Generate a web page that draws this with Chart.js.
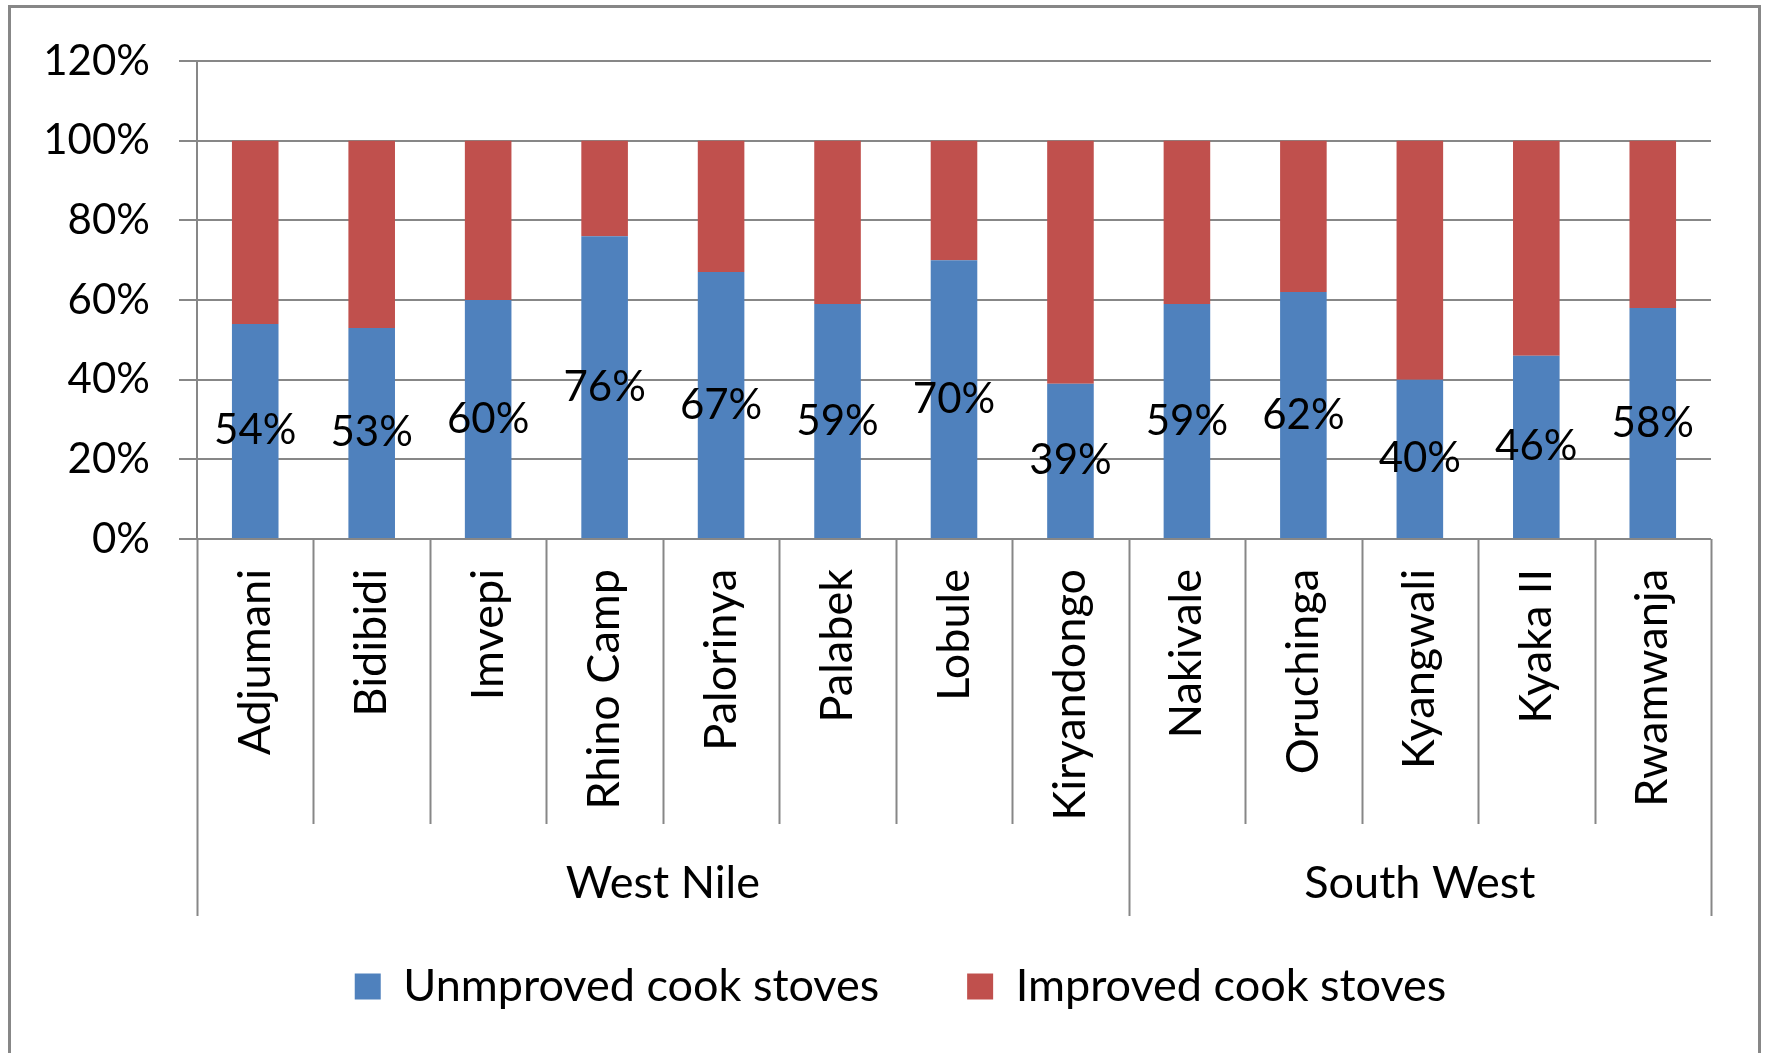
<!DOCTYPE html>
<html lang="en">
<head>
<meta charset="UTF-8">
<title>Cook stoves by settlement</title>
<script src="https://cdn.jsdelivr.net/npm/chart.js"></script>
<style>
  body { margin: 0; background: #fff; }
  #box { width: 1767px; height: 1053px; }
</style>
</head>
<body>
<div id="box"><canvas id="grafico"></canvas></div>
<script>
  const settlements = ["Adjumani", "Bidibidi", "Imvepi", "Rhino Camp", "Palorinya", "Palabek", "Lobule",
    "Kiryandongo", "Nakivale", "Oruchinga", "Kyangwali", "Kyaka II", "Rwamwanja"];
  const unimproved = [54, 53, 60, 76, 67, 59, 70, 39, 59, 62, 40, 46, 58];
  const improved = [46, 47, 40, 24, 33, 41, 30, 61, 41, 38, 60, 54, 42];
  const regions = ["West Nile", "South West"];
  const regionSize = [8, 5];
  const yTicks = [0, 20, 40, 60, 80, 100, 120];

  const LINE = "#878787";
  const FAMILY = "Lato, 'Open Sans', sans-serif";
  Chart.defaults.font.family = FAMILY;
  Chart.defaults.font.size = 42;
  Chart.defaults.color = "#000";

  // white background + grey frame around the whole chart
  const moldura = {
    id: "moldura",
    afterLayout(chart) {
      // nudge the legend a bit to the right
      chart.legend.left += 45;
      chart.legend.right += 45;
    },
    beforeDraw(chart) {
      const c = chart.ctx;
      c.save();
      c.fillStyle = "#fff";
      c.fillRect(0, 0, chart.width, chart.height);
      c.strokeStyle = LINE;
      c.lineWidth = 3;
      c.strokeRect(9.5, 6.5, chart.width - 17, chart.height + 20);
      c.restore();
    }
  };

  // percentage in the middle of each blue segment
  const rotulos = {
    id: "rotulos",
    afterDatasetsDraw(chart) {
      const c = chart.ctx;
      c.save();
      c.font = "42px " + FAMILY;
      c.fillStyle = "#000";
      c.textAlign = "center";
      c.textBaseline = "middle";
      chart.getDatasetMeta(0).data.forEach((bar, i) => {
        const p = bar.getCenterPoint();
        c.fillText(unimproved[i] + "%", p.x, p.y);
      });
      c.restore();
    }
  };

  // category separators and region labels under the x axis
  const grupos = {
    id: "grupos",
    afterDraw(chart) {
      const x = chart.scales.x, area = chart.chartArea, c = chart.ctx;
      const n = settlements.length;
      const edge = i => i === 0 ? area.left : i === n ? area.right
        : (x.getPixelForTick(i - 1) + x.getPixelForTick(i)) / 2;
      const starts = [0];
      regionSize.forEach(s => starts.push(starts[starts.length - 1] + s));

      c.save();
      c.strokeStyle = LINE;
      c.lineWidth = 2;
      for (let i = 0; i <= n; i++) {
        const len = starts.includes(i) ? 377 : 285;
        c.beginPath();
        c.moveTo(Math.round(edge(i)) + 0.5, area.bottom);
        c.lineTo(Math.round(edge(i)) + 0.5, area.bottom + len);
        c.stroke();
      }
      c.font = "45px " + FAMILY;
      c.fillStyle = "#000";
      c.textAlign = "center";
      c.textBaseline = "middle";
      regions.forEach((r, k) => {
        c.fillText(r, (edge(starts[k]) + edge(starts[k + 1])) / 2, area.bottom + 344);
      });
      c.restore();
    }
  };

  new Chart(document.getElementById("grafico"), {
    type: "bar",
    data: {
      labels: settlements,
      datasets: [
        { label: "Unmproved cook stoves", data: unimproved, backgroundColor: "#4F81BD",
          barPercentage: 0.4, categoryPercentage: 1 },
        { label: "Improved cook stoves", data: improved, backgroundColor: "#C0504D",
          barPercentage: 0.4, categoryPercentage: 1 }
      ]
    },
    options: {
      responsive: true,
      maintainAspectRatio: false,
      animation: false,
      layout: { padding: { top: 61, right: 56, bottom: 34, left: 0 } },
      plugins: {
        legend: {
          position: "bottom",
          labels: { boxWidth: 26, boxHeight: 26, padding: 88, font: { size: 45 } }
        },
        tooltip: { enabled: false }
      },
      scales: {
        x: {
          stacked: true,
          grid: { display: false, drawTicks: false },
          border: { display: false },
          ticks: { autoSkip: false, minRotation: 90, maxRotation: 90, padding: 30, font: { size: 45 } },
          afterFit: s => { s.height = 337; }
        },
        y: {
          stacked: true,
          min: 0,
          max: 120,
          grid: { color: LINE, lineWidth: 2, tickLength: 18 },
          border: { color: LINE, width: 2 },
          ticks: { padding: 29, callback: v => v + "%" },
          afterBuildTicks: s => { s.ticks = yTicks.map(v => ({ value: v })); },
          afterFit: s => { s.width = 197; }
        }
      }
    },
    plugins: [moldura, rotulos, grupos]
  });
</script>
</body>
</html>
